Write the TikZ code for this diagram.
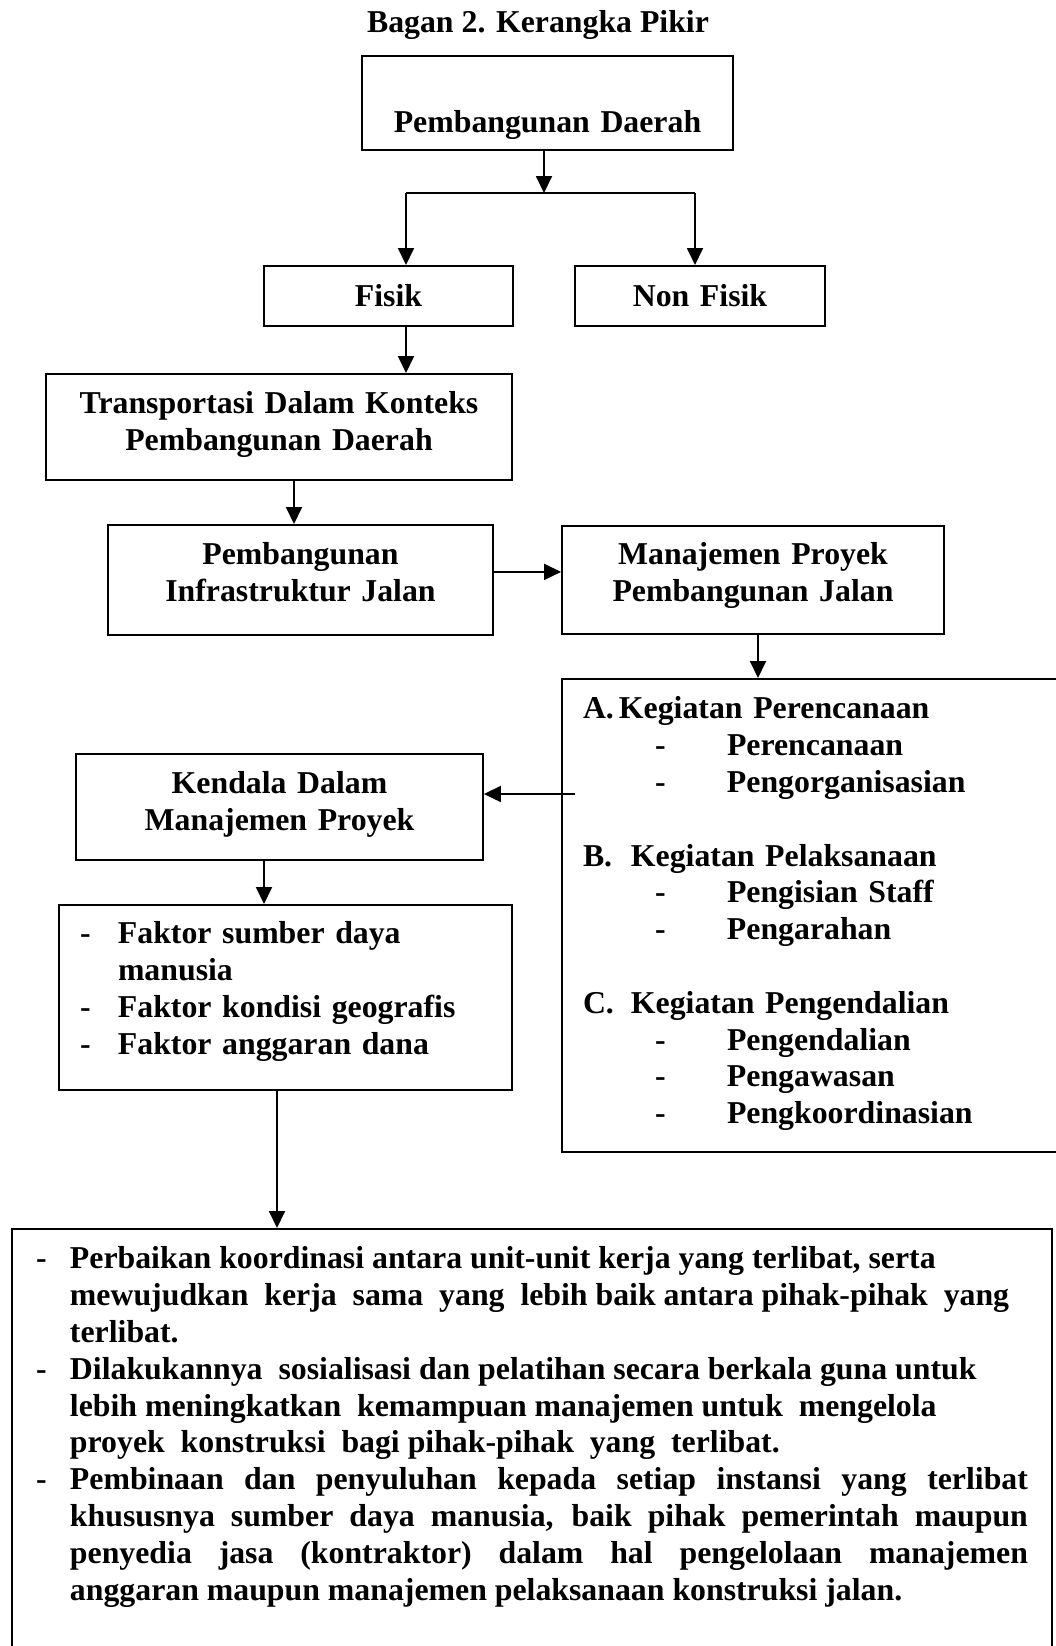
\documentclass[tikz,border=0pt]{standalone}
\usepackage{fontspec}
\setmainfont{Liberation Serif}
\usetikzlibrary{positioning}
\usetikzlibrary{arrows.meta}

\begin{document}
\begin{tikzpicture}[%
			x=0.5pt, y=-0.5pt,
			every node/.style={font=\fontsize{15.9pt}{18.4pt}\selectfont\bfseries},
			kotak/.style={draw, line width=0.9pt, anchor=north, inner xsep=0pt, inner ysep=0pt, align=center},
			panah/.style={draw, line width=0.9pt, -{Triangle[length=8.5pt, width=8pt]}}]
			\clip (0,0) rectangle (1056,1646);
			\node[anchor=base](judul) at (538,32){Bagan 2. Kerangka Pikir};
			\node[kotak, text width=185.5pt, text height=38.5pt, text depth=8.5pt](pd) at (547.5,55){Pembangunan Daerah};
			\node[kotak, text width=124.5pt, text height=20.5pt, text depth=9.5pt](fisik) at (388.5,265){Fisik};
			\node[kotak, text width=125pt, text height=20.5pt, text depth=9.5pt](nonfisik) at (700,265){Non Fisik};
			\node[kotak, text width=233pt, text height=20pt, text depth=33pt](trans) at (279,373){Transportasi Dalam Konteks\\Pembangunan Daerah};
			\node[kotak, text width=192.5pt, text height=20pt, text depth=35pt](pij) at (300.5,524){Pembangunan\\Infrastruktur Jalan};
			\node[kotak, text width=191pt, text height=19.5pt, text depth=34.5pt](mppj) at (753,525){Manajemen Proyek\\Pembangunan Jalan};
			\node[kotak, align=left, inner xsep=10.5pt, text width=227pt, text height=20pt, text depth=216.5pt](kegiatan) at (810,678){%
				\makebox[18pt][l]{A.}Kegiatan Perencanaan\\
				\hspace*{36pt}\makebox[36pt][l]{-}Perencanaan\\
				\hspace*{36pt}\makebox[36pt][l]{-}Pengorganisasian\\[18.4pt]
				\makebox[24pt][l]{B.}Kegiatan Pelaksanaan\\
				\hspace*{36pt}\makebox[36pt][l]{-}Pengisian Staff\\
				\hspace*{36pt}\makebox[36pt][l]{-}Pengarahan\\[18.4pt]
				\makebox[24pt][l]{C.}Kegiatan Pengendalian\\
				\hspace*{36pt}\makebox[36pt][l]{-}Pengendalian\\
				\hspace*{36pt}\makebox[36pt][l]{-}Pengawasan\\
				\hspace*{36pt}\makebox[36pt][l]{-}Pengkoordinasian};
			\node[kotak, text width=203.5pt, text height=20pt, text depth=33pt](kendala) at (279.5,753){Kendala Dalam\\Manajemen Proyek};
			\node[kotak, align=left, inner xsep=10.5pt, text width=205.5pt, text height=19.5pt, text depth=73pt](faktor) at (285.5,904){%
				\makebox[19pt][l]{-}Faktor sumber daya\\
				\hspace*{19pt}manusia\\
				\makebox[19pt][l]{-}Faktor kondisi geografis\\
				\makebox[19pt][l]{-}Faktor anggaran dana};
			\node[kotak, align=justify, inner xsep=12pt, text width=496pt, text height=20pt, text depth=191pt](saran) at (532,1228){%
				\tolerance=10000 \hbadness=10000 \hyphenpenalty=10000
				\hangindent=17pt\hangafter=1\noindent\makebox[17pt][l]{-}Perbaikan koordinasi antara unit-unit kerja yang terlibat, serta\newline
				mewujudkan\ \ kerja\ \ sama\ \ yang\ \ lebih baik antara pihak-pihak\ \ yang\newline
				terlibat.\par
				\hangindent=17pt\hangafter=1\noindent\makebox[17pt][l]{-}Dilakukannya\ \ sosialisasi dan pelatihan secara berkala guna untuk\newline
				lebih meningkatkan\ \ kemampuan manajemen untuk\ \ mengelola\newline
				proyek\ \ konstruksi\ \ bagi pihak-pihak\ \ yang\ \ terlibat.\par
				\hangindent=17pt\hangafter=1\noindent\makebox[17pt][l]{-}Pembinaan dan penyuluhan kepada setiap instansi yang terlibat\linebreak
				khususnya sumber daya manusia, baik pihak pemerintah maupun\linebreak
				penyedia jasa (kontraktor) dalam hal pengelolaan manajemen\linebreak
				anggaran maupun manajemen pelaksanaan konstruksi jalan.\par};
			\coordinate (simpang) at (544,193);
			\coordinate (kiri) at (406,193);
			\coordinate (kanan) at (695,193);
			\coordinate (mulai) at (575,794);
			\path[panah] (simpang |- pd.south) -- (simpang);
			\path[draw, line width=0.9pt] (kiri) -- (kanan);
			\path[panah] (kiri) -- (kiri |- fisik.north);
			\path[panah] (kanan) -- (kanan |- nonfisik.north);
			\path[panah] (kiri |- fisik.south) -- (kiri |- trans.north);
			\path[panah] ([xshift=7.5pt]trans.south) -- ([xshift=7.5pt]trans.south |- pij.north);
			\path[panah] ([yshift=4pt]pij.east) -- ([yshift=4pt]pij.east -| mppj.west);
			\path[panah] ([xshift=2.5pt]mppj.south) -- ([xshift=2.5pt]mppj.south |- kegiatan.north);
			\path[panah] (mulai) -- (mulai -| kendala.east);
			\path[panah] ([xshift=-7.75pt]kendala.south) -- ([xshift=-7.75pt]kendala.south |- faktor.north);
			\path[panah] ([xshift=-4.25pt]faktor.south) -- ([xshift=-4.25pt]faktor.south |- saran.north);
	\end{tikzpicture}
\end{document}
